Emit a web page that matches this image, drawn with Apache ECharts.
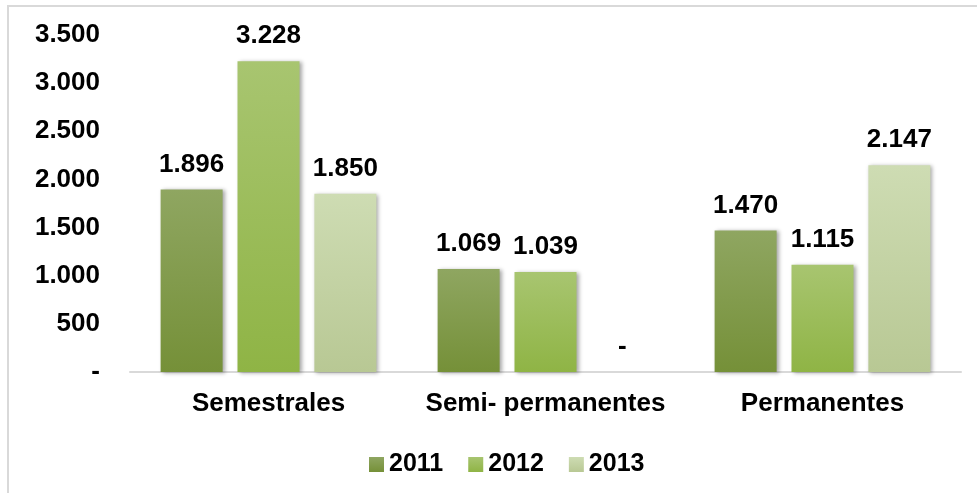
<!DOCTYPE html>
<html>
<head>
<meta charset="utf-8">
<script src="https://cdn.jsdelivr.net/npm/echarts@6/dist/echarts.min.js"></script>
<style>
html,body{margin:0;padding:0;background:#fff;}
#c{width:977px;height:493px;}
</style>
</head>
<body>
<div id="c"></div>
<script>
const categories = ['Semestrales', 'Semi- permanentes', 'Permanentes'];
const seriesNames = ['2011', '2012', '2013'];
const values2011 = [1896, 1069, 1470];
const values2012 = [3228, 1039, 1115];
const values2013 = [1850, 0, 2147];
const yTicks = [0, 500, 1000, 1500, 2000, 2500, 3000, 3500];

function fmt(v) {
  if (v === 0) return '-';
  return String(v).replace(/\B(?=(\d{3})+(?!\d))/g, '.');
}
function grad(top, bottom) {
  return new echarts.graphic.LinearGradient(0, 0, 0, 1, [
    {offset: 0, color: top}, {offset: 1, color: bottom}
  ]);
}
const colors = [
  grad('#8fa661', '#759038'),
  grad('#a8c570', '#8fb445'),
  grad('#cedcb3', '#b8c894')
];
const allVals = [values2011, values2012, values2013];
const FONT = '"Liberation Sans", Arial, sans-serif';

const chart = echarts.init(document.getElementById('c'));
chart.setOption({
  animation: false,
  backgroundColor: '#fff',
  graphic: [{
    type: 'polyline',
    shape: {points: [[8, 493], [8, 6], [977, 6]]},
    style: {fill: 'none', stroke: '#d9d9d9', lineWidth: 2},
    silent: true, z: -1
  }],
  grid: {left: 130, right: 16, top: 35, bottom: 121},
  legend: {
    data: seriesNames,
    top: 447,
    left: 364,
    itemWidth: 15,
    itemHeight: 15,
    itemGap: 25,
    icon: 'rect',
    textStyle: {fontFamily: FONT, fontWeight: 'bold', fontSize: 25, color: '#000'}
  },
  xAxis: {
    type: 'category',
    data: categories,
    axisLine: {show: true, lineStyle: {color: '#d9d9d9', width: 2}},
    axisTick: {show: false},
    axisLabel: {interval: 0, hideOverlap: false, fontFamily: FONT, fontWeight: 'bold', fontSize: 26, color: '#000', margin: 19}
  },
  yAxis: {
    type: 'value',
    min: yTicks[0],
    max: yTicks[yTicks.length - 1],
    interval: 500,
    splitLine: {show: false},
    axisLine: {show: false},
    axisTick: {show: false},
    axisLabel: {fontFamily: FONT, fontWeight: 'bold', fontSize: 26, color: '#000', margin: 30, formatter: fmt}
  },
  series: seriesNames.map((n, i) => ({
    name: n,
    type: 'bar',
    data: allVals[i],
    barWidth: 62,
    barGap: '24%',
    itemStyle: {
      color: colors[i],
      shadowBlur: 4,
      shadowColor: 'rgba(0,0,0,0.35)',
      shadowOffsetX: 2,
      shadowOffsetY: 1
    },
    label: {
      show: true,
      position: 'top',
      distance: 12,
      fontFamily: FONT,
      fontWeight: 'bold',
      fontSize: 26,
      color: '#000',
      formatter: p => fmt(p.value)
    }
  }))
});
</script>
</body>
</html>
